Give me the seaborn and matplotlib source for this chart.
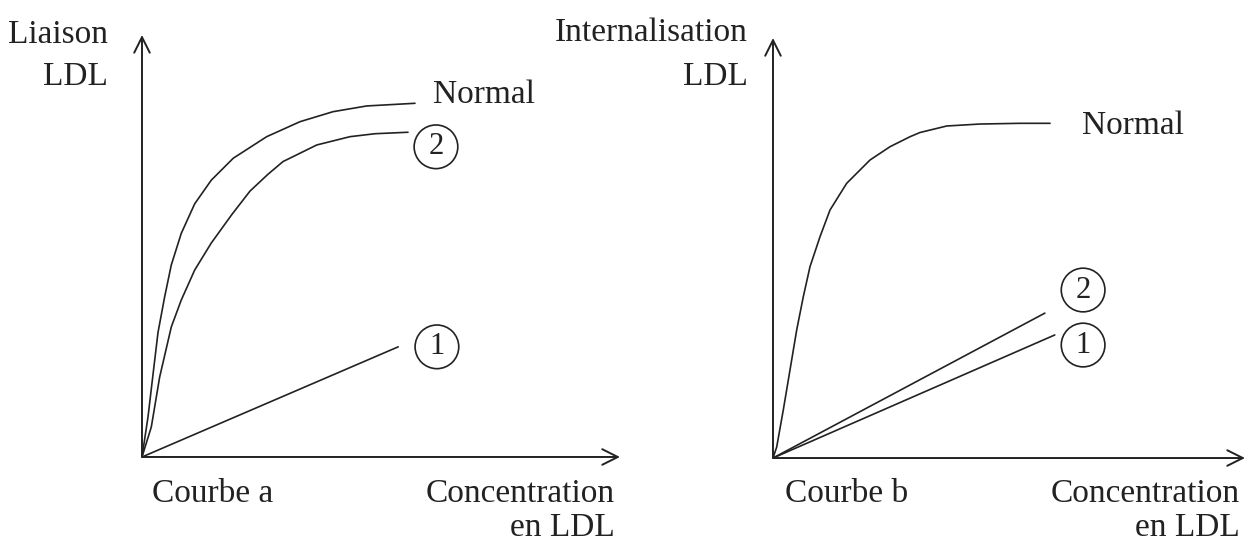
import matplotlib
matplotlib.use('Agg')
import matplotlib.pyplot as plt
import seaborn as sns
import pandas as pd

# values, axes run 0..100 on both panels
norm_a_x = [0, 1.26, 2.30, 3.35, 4.75, 6.13, 8.22, 11.03, 14.50, 19.10, 26.09, 33.05, 39.96, 47.01, 57.11]
norm_a_y = [0, 9.5, 19.5, 29.5, 38.0, 45.5, 53.0, 60.0, 65.6, 70.8, 75.9, 79.45, 81.82, 83.18, 83.81]
two_a_x = [0, 1.95, 3.70, 6.13, 8.22, 11.03, 14.50, 18.83, 22.59, 26.36, 29.50, 36.55, 43.51, 48.74, 55.65]
two_a_y = [0, 7.11, 18.96, 30.81, 37.20, 44.31, 50.71, 57.5, 63.0, 67.0, 70.0, 73.93, 75.90, 76.6, 76.95]
one_a_x = [0, 53.6]
one_a_y = [0, 26.1]

norm_b_x = [0, 0.78, 2.18, 3.60, 5.02, 6.42, 7.84, 9.96, 12.08, 15.61, 20.55, 24.79, 29.03, 31.14, 36.80, 43.86, 52.33, 58.69]
norm_b_y = [0, 2.6, 11.43, 20.95, 30.48, 38.40, 45.55, 52.69, 59.05, 65.40, 70.95, 74.12, 76.50, 77.50, 79.05, 79.52, 79.69, 79.69]
two_b_x = [0, 57.6]
two_b_y = [0, 34.5]
one_b_x = [0, 59.7]
one_b_y = [0, 29.3]

sns.set_theme(style='white')
plt.rcParams['font.family'] = ['Liberation Serif', 'DejaVu Serif']

ink = '#222222'
fs = 24

fig = plt.figure(figsize=(12.51, 5.43), dpi=100)
ax_a = fig.add_axes([0.1135, 0.1584, 0.3821, 0.7772])
ax_b = fig.add_axes([0.6179, 0.1565, 0.3773, 0.7735])


def curve(ax, xs, ys):
    df = pd.DataFrame({'x': xs, 'y': ys})
    sns.lineplot(data=df, x='x', y='y', sort=False, estimator=None,
                 color=ink, lw=1.2, solid_joinstyle='round', ax=ax)


def axes_arrows(ax):
    ax.set_xlim(0, 100)
    ax.set_ylim(0, 100)
    ax.axis('off')
    for tip in [(100, 0), (0, 100)]:
        ax.annotate('', xy=tip, xytext=(0, 0),
                    arrowprops=dict(arrowstyle='->', lw=1.4, color=ink,
                                    mutation_scale=28, shrinkA=0, shrinkB=0))


def circled(ax, x, y, s):
    ax.text(x, y, s, fontsize=fs - 2, ha='center', va='center', color=ink,
            bbox=dict(boxstyle='circle,pad=0.24', fc='none', ec=ink, lw=1.2),
            clip_on=False)


# panel a
axes_arrows(ax_a)
curve(ax_a, norm_a_x, norm_a_y)
curve(ax_a, two_a_x, two_a_y)
curve(ax_a, one_a_x, one_a_y)
ax_a.text(-7.1, 100, 'Liaison', fontsize=fs, ha='right', va='center', color=ink)
ax_a.text(-7.1, 90.0, 'LDL', fontsize=fs, ha='right', va='center', color=ink)
ax_a.text(60.9, 85.8, 'Normal', fontsize=fs, ha='left', va='center', color=ink)
circled(ax_a, 61.5, 73.5, '2')
circled(ax_a, 61.7, 26.1, '1')
ax_a.text(2.1, -8.8, 'Courbe a', fontsize=fs, ha='left', va='center', color=ink)
ax_a.text(99, -8.8, 'Concentration', fontsize=fs, ha='right', va='center', color=ink)
ax_a.text(99, -16.8, 'en LDL', fontsize=fs, ha='right', va='center', color=ink)

# panel b
axes_arrows(ax_b)
curve(ax_b, norm_b_x, norm_b_y)
curve(ax_b, two_b_x, two_b_y)
curve(ax_b, one_b_x, one_b_y)
ax_b.text(-5.3, 101.2, 'Internalisation', fontsize=fs, ha='right', va='center', color=ink)
ax_b.text(-5.3, 90.7, 'LDL', fontsize=fs, ha='right', va='center', color=ink)
ax_b.text(65.5, 79.0, 'Normal', fontsize=fs, ha='left', va='center', color=ink)
circled(ax_b, 65.7, 40.0, '2')
circled(ax_b, 65.7, 26.9, '1')
ax_b.text(2.5, -8.6, 'Courbe b', fontsize=fs, ha='left', va='center', color=ink)
ax_b.text(98.9, -8.6, 'Concentration', fontsize=fs, ha='right', va='center', color=ink)
ax_b.text(98.9, -16.7, 'en LDL', fontsize=fs, ha='right', va='center', color=ink)

fig.savefig('out.png', dpi=100)
